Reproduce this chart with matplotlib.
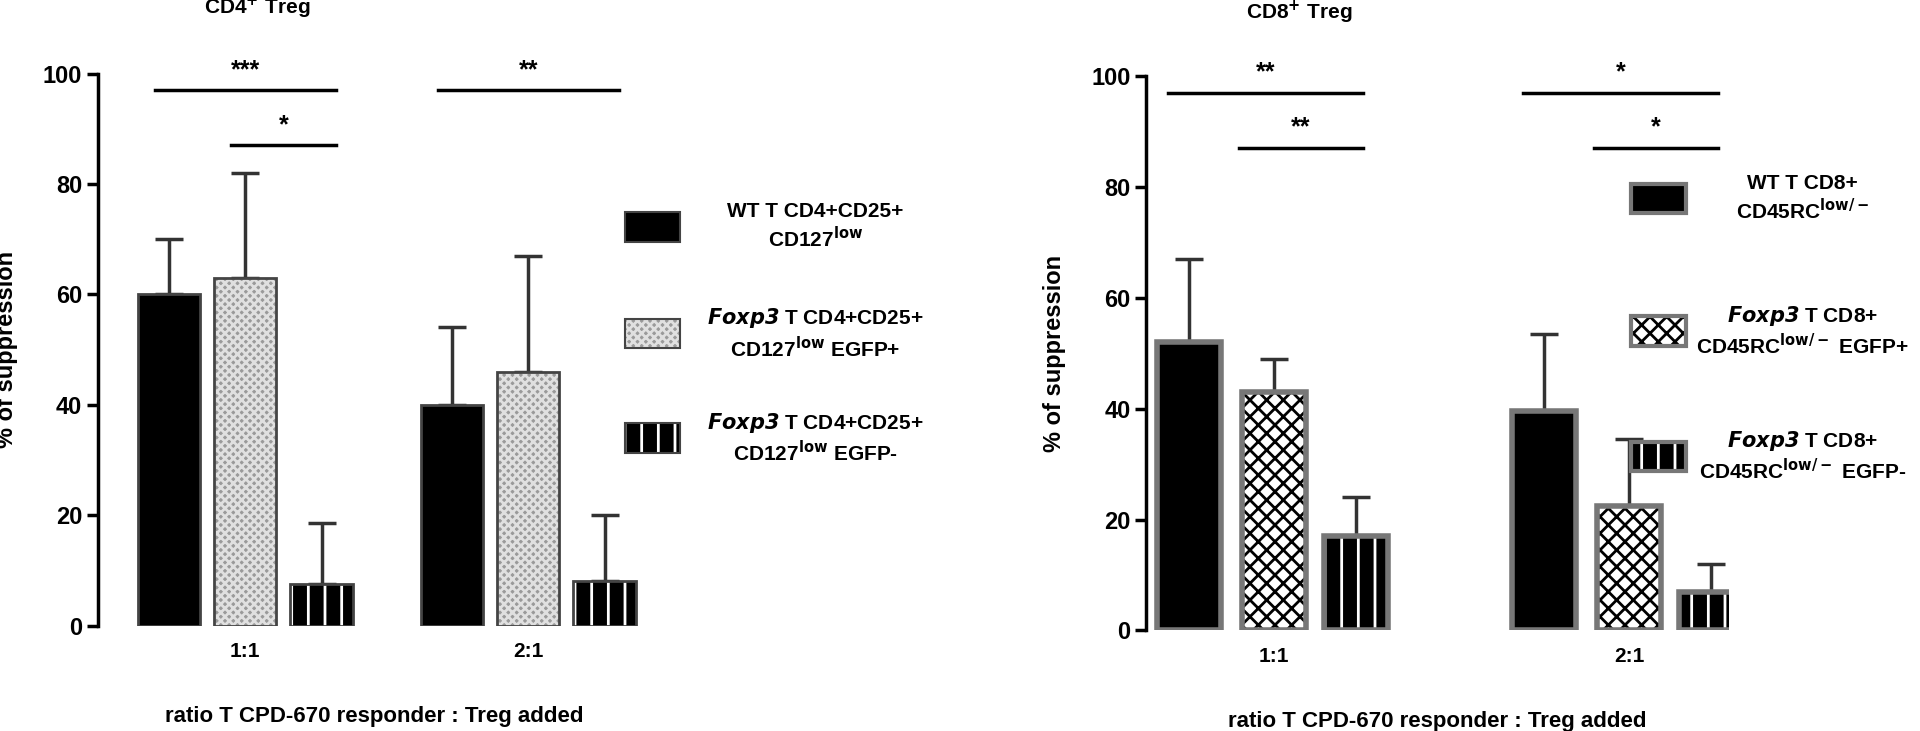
import matplotlib
matplotlib.use("Agg")
import matplotlib.pyplot as plt
import numpy as np
plt.rcParams['font.family'] = 'Liberation Sans'
plt.rcParams['font.weight'] = 'bold'

groups = ["1:1", "2:1"]
cd4_means = [[60, 40], [63, 46], [7.5, 8]]
cd4_err = [[10, 14], [19, 21], [11, 12]]
cd8_means = [[52, 39.5], [43, 22.5], [17, 7]]
cd8_err = [[15, 14], [6, 12], [7, 5]]
cd4_labels = ["WT T CD4+CD25+\nCD127$^{\\mathbf{low}}$",
              "$\\mathbfit{Foxp3}$ T CD4+CD25+\nCD127$^{\\mathbf{low}}$ EGFP+",
              "$\\mathbfit{Foxp3}$ T CD4+CD25+\nCD127$^{\\mathbf{low}}$ EGFP-"]
cd8_labels = ["WT T CD8+\nCD45RC$^{\\mathbf{low/-}}$",
              "$\\mathbfit{Foxp3}$ T CD8+\nCD45RC$^{\\mathbf{low/-}}$ EGFP+",
              "$\\mathbfit{Foxp3}$ T CD8+\nCD45RC$^{\\mathbf{low/-}}$ EGFP-"]
cd4_sig = [(0, -0.27, 0.27, 97, "***"), (0, 0.0, 0.27, 87, "*"), (1, -0.27, 0.27, 97, "**")]
cd8_sig = [(0, -0.25, 0.2, 97, "**"), (0, -0.05, 0.2, 87, "**"), (1, -0.25, 0.2, 97, "*"), (1, -0.05, 0.2, 87, "*")]

W, H = 1566, 596
fig = plt.figure(figsize=(19.2, 7.31), dpi=100)

def fx(x): return x / W
def fy(y): return 1 - y / H

ax1 = fig.add_axes([fx(80), fy(510), fx(530) - fx(80), fy(60) - fy(510)])
ax2 = fig.add_axes([fx(935), fy(514), fx(1410) - fx(935), fy(62) - fy(514)])

x = np.arange(len(groups))

def draw(ax, means, errs, offs, width, styles, edge, lw):
    for i in range(3):
        xs = x + offs[i]
        fc, hatch, hc = styles[i]
        ax.bar(xs, means[i], width, color=fc, hatch=hatch, edgecolor=hc, linewidth=0, zorder=2)
        ax.bar(xs, means[i], width, fill=False, edgecolor=edge, linewidth=lw, zorder=3)
        ax.errorbar(xs, means[i], yerr=[np.zeros(2), errs[i]], fmt='none', ecolor='#333333',
                    elinewidth=2.5, capsize=10, capthick=2.5, zorder=1)

plt.rcParams['hatch.linewidth'] = 2.0
draw(ax1, cd4_means, cd4_err, [-0.27, 0.0, 0.27], 0.22,
     [('black', None, 'black'), ('#9a9a9a', 'xxxx', '#e0e0e0'), ('black', '|', 'white')], '#444444', 2)
draw(ax2, cd8_means, cd8_err, [-0.24, 0.0, 0.23], 0.18,
     [('black', None, 'black'), ('white', 'xx', 'black'), ('black', '|', 'white')], '#777777', 4)

for ax, xl in [(ax1, (-0.52, 1.43)), (ax2, (-0.36, 1.28))]:
    ax.set_xlim(*xl)
    ax.set_ylim(0, 100)
    ax.set_yticks([0, 20, 40, 60, 80, 100])
    ax.set_xticks(x)
    ax.set_xticklabels(groups)
    ax.spines['top'].set_visible(False)
    ax.spines['right'].set_visible(False)
    ax.spines['bottom'].set_visible(False)
    ax.spines['left'].set_linewidth(2.5)
    ax.tick_params(axis='y', width=2.5, length=8, labelsize=17)
    ax.tick_params(axis='x', length=0, labelsize=15, pad=12)
    ax.set_ylabel("% of suppression", fontsize=17, fontweight='bold', labelpad=18)
    ax.set_xlabel("ratio T CPD-670 responder : Treg added", fontsize=16, fontweight='bold', labelpad=32)

for ax, sig in [(ax1, cd4_sig), (ax2, cd8_sig)]:
    for g, a, b, y, s in sig:
        ax.plot([g + a - 0.05, g + b + 0.05], [y, y], color='black', lw=2.5, clip_on=False)
        ax.text(g + (a + b) / 2, y + 1.5, s, ha='center', va='bottom', fontsize=18)

fig.text(fx(210), fy(6), "CD4$^{\\mathbf{+}}$ Treg", ha='center', va='center', fontsize=15)
fig.text(fx(1060), fy(10), "CD8$^{\\mathbf{+}}$ Treg", ha='center', va='center', fontsize=15)

def legend(labels, px, pys, tx, styles, edge, lw):
    for lab, py, st in zip(labels, pys, styles):
        fc, hatch, hc = st
        r = plt.Rectangle((fx(px), fy(py + 12)), fx(45), fy(0) - fy(24), transform=fig.transFigure,
                          facecolor=fc, hatch=hatch, edgecolor=hc, linewidth=0)
        fig.add_artist(r)
        r2 = plt.Rectangle((fx(px), fy(py + 12)), fx(45), fy(0) - fy(24), transform=fig.transFigure,
                           fill=False, edgecolor=edge, linewidth=lw)
        fig.add_artist(r2)
        fig.text(fx(tx), fy(py), lab, ha='center', va='center', fontsize=15, linespacing=1.25)

legend(cd4_labels, 510, [185, 272, 357], 665,
       [('black', None, 'black'), ('#9a9a9a', 'xxxx', '#e0e0e0'), ('black', '|', 'white')], '#444444', 1.5)
legend(cd8_labels, 1330, [162, 270, 372], 1470,
       [('black', None, 'black'), ('white', 'xx', 'black'), ('black', '|', 'white')], '#777777', 3)

fig.savefig("out.png", dpi=100)
